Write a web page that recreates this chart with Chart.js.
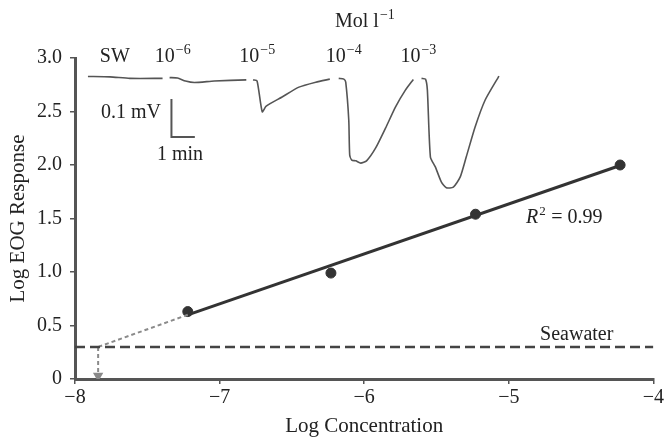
<!DOCTYPE html>
<html>
<head>
<meta charset="utf-8">
<script src="https://cdn.jsdelivr.net/npm/chart.js@4"></script>
<style>
html,body{margin:0;padding:0;background:#fff;}
#wrap{width:666px;height:439px;position:relative;}
</style>
</head>
<body>
<div id="wrap"><canvas id="c" width="666" height="439"></canvas></div>
<script>
// ---- Data ----
const logConc = [-7.22, -6.23, -5.23, -4.23];
const logEOG  = [0.63, 0.99, 1.54, 2.00];

const fitX = [-7.22, -4.22];
const fitY = [0.60, 2.00];

const extrapX = [-7.22, -7.84];
const extrapY = [0.60, 0.30];

const seawaterLevel = 0.30;
const thresholdX = -7.84;

const xTicks = [-8, -7, -6, -5, -4];
const yTicks = [0, 0.5, 1.0, 1.5, 2.0, 2.5, 3.0];

// EOG trace (time in min, potential in mV relative to baseline)
const traceSW   = [[0,0.004],[0.94,0.003],[1.79,-0.001],[3.19,-0.001]];
const trace1e6  = [[3.49,0.001],[3.83,0],[4.17,-0.008],[4.55,-0.012],[5.40,-0.008],[6.77,-0.005]];
const trace1e5  = [[7.06,-0.005],[7.23,-0.008],[7.45,-0.089],[7.62,-0.074],[8.30,-0.05],[9.02,-0.024],[9.74,-0.011],[10.34,-0.003]];
const trace1e4  = [[10.72,-0.001],[10.94,-0.003],[11.02,-0.011],[11.15,-0.111],[11.19,-0.203],[11.28,-0.216],[11.45,-0.218],[11.66,-0.224],[11.91,-0.218],[12.30,-0.184],[12.72,-0.132],[13.15,-0.076],[13.57,-0.032],[13.91,-0.004]];
const trace1e3  = [[14.26,-0.001],[14.43,-0.003],[14.51,-0.032],[14.64,-0.208],[14.85,-0.234],[15.11,-0.274],[15.32,-0.289],[15.62,-0.287],[15.91,-0.261],[16.17,-0.208],[16.55,-0.129],[16.98,-0.058],[17.57,0.005]];
const scaleBarT = [3.57, 3.57, 4.57];   // 1 min
const scaleBarV = [-0.055, -0.155, -0.155]; // 0.1 mV

const traceLabels = [
  {t:0.51, base:'SW', sup:''},
  {t:2.86, base:'10', sup:'\u22126'},
  {t:6.47, base:'10', sup:'\u22125'},
  {t:10.17, base:'10', sup:'\u22124'},
  {t:13.36, base:'10', sup:'\u22123'}
];

// ---- Build datasets ----
const FONT = "'Liberation Serif', 'Times New Roman', serif";
const pts = (xs, ys) => xs.map((x,i)=>({x:x, y:ys[i]}));
const tr = a => a.map(p=>({x:p[0], y:p[1]}));
const traceAll = [].concat(
  tr(traceSW), [{x:3.3,y:null}],
  tr(trace1e6), [{x:6.9,y:null}],
  tr(trace1e5), [{x:10.5,y:null}],
  tr(trace1e4), [{x:14.1,y:null}],
  tr(trace1e3)
);

const textPlugin = {
  id: 'texts',
  afterDatasetsDraw(chart) {
    const ctx = chart.ctx;
    const x = chart.scales.x, y = chart.scales.y;
    const xt = chart.scales.xt;
    ctx.save();
    ctx.fillStyle = '#222';
    ctx.textBaseline = 'alphabetic';
    ctx.textAlign = 'left';
    const drawSup = (px, py, base, sup, size) => {
      ctx.font = size + 'px ' + FONT;
      ctx.fillText(base, px, py);
      const w = ctx.measureText(base).width;
      if (sup) {
        ctx.font = Math.round(size*0.68) + 'px ' + FONT;
        ctx.fillText(sup, px + w + 1, py - size*0.4);
      }
    };
    // concentration labels above trace
    traceLabels.forEach(l => {
      drawSup(xt.getPixelForValue(l.t), 62, l.base, l.sup, 20);
    });
    drawSup(335, 27, 'Mol l', '\u22121', 20);
    // scale bar labels
    ctx.font = '20px ' + FONT;
    ctx.fillText('0.1 mV', 101, 118);
    ctx.fillText('1 min', 157, 160);
    // R^2
    const rx = x.getPixelForValue(-4.88), ry = y.getPixelForValue(1.52) + 7;
    ctx.font = 'italic 20px ' + FONT;
    ctx.fillText('R', rx, ry);
    let w = ctx.measureText('R').width;
    ctx.font = '13px ' + FONT;
    ctx.fillText('2', rx + w + 1, ry - 8);
    ctx.font = '20px ' + FONT;
    ctx.fillText(' = 0.99', rx + w + 8, ry);
    // Seawater
    ctx.textAlign = 'center';
    ctx.fillText('Seawater', x.getPixelForValue(-4.53), y.getPixelForValue(seawaterLevel) - 7);
    ctx.restore();
  }
};

new Chart(document.getElementById('c'), {
  type: 'scatter',
  data: {
    datasets: [
      { // seawater
        type:'line', data: pts([-8,-4],[seawaterLevel,seawaterLevel]),
        borderColor:'#444', borderWidth:2.5, borderDash:[10,5], pointRadius:0, fill:false
      },
      { // extrapolation
        type:'line', data: pts(extrapX, extrapY),
        borderColor:'#8a8a8a', borderWidth:2, borderDash:[4,3], pointRadius:0, fill:false
      },
      { // arrow to x-axis
        type:'line', data: pts([thresholdX, thresholdX],[seawaterLevel, 0.03]),
        borderColor:'#8a8a8a', borderWidth:2, borderDash:[4,3],
        pointRadius:[0,4], pointStyle:'triangle', rotation:180,
        pointBackgroundColor:'#8a8a8a', pointBorderColor:'#8a8a8a', fill:false
      },
      { // regression
        type:'line', data: pts(fitX, fitY),
        borderColor:'#333', borderWidth:3, pointRadius:0, fill:false
      },
      { // measured points
        data: pts(logConc, logEOG),
        pointRadius:5, pointBackgroundColor:'#333', pointBorderColor:'#333'
      },
      { // EOG trace
        type:'line', data: traceAll, xAxisID:'xt', yAxisID:'yt',
        borderColor:'#555', borderWidth:1.6, pointRadius:0, spanGaps:false, fill:false, tension:0.2
      },
      { // scale bar
        type:'line', data: pts(scaleBarT, scaleBarV), xAxisID:'xt', yAxisID:'yt',
        borderColor:'#555', borderWidth:2, pointRadius:0, fill:false
      }
    ]
  },
  options: {
    responsive:false, animation:false,
    layout:{ padding:{ left:0, right:10, top:58, bottom:0 } },
    plugins:{ legend:{display:false}, tooltip:{enabled:false} },
    scales:{
      x:{
        type:'linear', min:-8, max:-4,
        afterFit(s){ s.height = 60; },
        afterBuildTicks(s){ s.ticks = xTicks.map(v=>({value:v})); },
        ticks:{ color:'#222', font:{family:FONT, size:20}, padding:2,
          callback:v=>String(v).replace('-', '\u2212') },
        grid:{ drawOnChartArea:false, drawTicks:true, tickLength:5, color:'#555', lineWidth:1.5 },
        border:{ color:'#555', width:3 },
        title:{ display:true, text:'Log Concentration', color:'#222', font:{family:FONT, size:21}, padding:{top:0,bottom:0} }
      },
      y:{
        type:'linear', min:0, max:3,
        afterFit(s){ s.width = 75; },
        afterBuildTicks(s){ s.ticks = yTicks.map(v=>({value:v})); },
        ticks:{ color:'#222', font:{family:FONT, size:20}, padding:8,
          callback:v=> v===0 ? '0' : Number(v).toFixed(1) },
        grid:{ drawOnChartArea:false, drawTicks:true, tickLength:5, color:'#555', lineWidth:1.5 },
        border:{ color:'#555', width:3 },
        title:{ display:true, text:'Log EOG Response', color:'#222', font:{family:FONT, size:21}, padding:{top:6,bottom:0} }
      },
      xt:{ type:'linear', display:false, min:-0.553, max:24.17 },
      yt:{ type:'linear', display:false, min:-0.792, max:0.0526 }
    }
  },
  plugins:[textPlugin]
});
</script>
</body>
</html>
